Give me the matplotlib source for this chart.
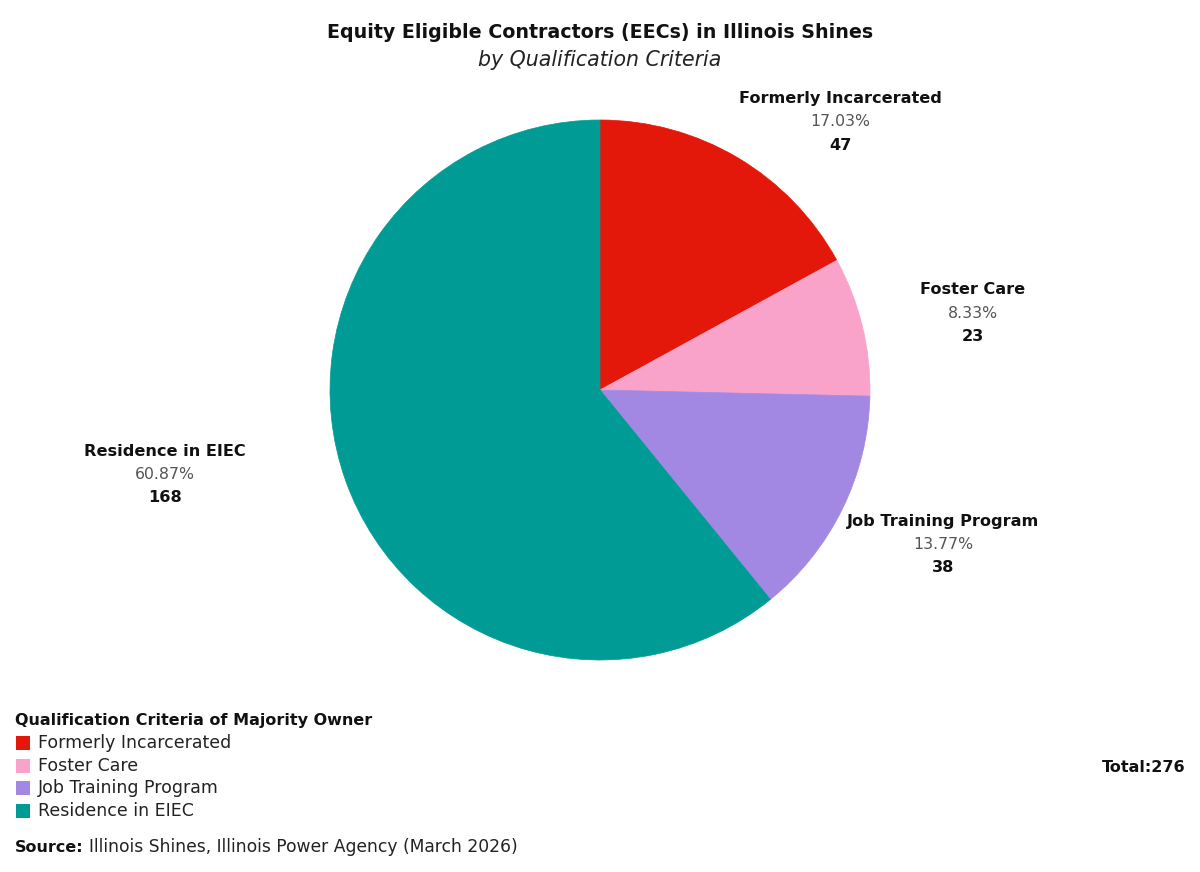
import matplotlib
matplotlib.use("Agg")
import matplotlib.pyplot as plt
from matplotlib.patches import Rectangle

categories = ["Formerly Incarcerated", "Foster Care", "Job Training Program", "Residence in EIEC"]
values = [47, 23, 38, 168]
percent_labels = ["17.03%", "8.33%", "13.77%", "60.87%"]
colors = ["#e3170a", "#f9a3cb", "#a388e3", "#009b95"]
total = sum(values)

# label centres in figure pixels (layout)
label_pos = [(840, 99), (973, 290), (943, 521), (165, 451)]

FONT = ["DejaVu Sans"]
plt.rcParams['font.family'] = FONT

W, H = 1200, 872
fig = plt.figure(figsize=(W / 100, H / 100), dpi=100)
fig.patch.set_facecolor("white")

cx, cy, r = 600, 390, 270
ax = fig.add_axes([(cx - r) / W, 1 - (cy + r) / H, 2 * r / W, 2 * r / H])
wedges, _ = ax.pie(values, colors=colors, startangle=90, counterclock=False,
                   wedgeprops=dict(linewidth=0.5))
for w, c in zip(wedges, colors):
    w.set_edgecolor(c)
ax.set_aspect("equal")
ax.set_xlim(-1, 1)
ax.set_ylim(-1, 1)
ax.axis("off")

def fx(x):
    return x / W

def fy(y):
    return 1 - y / H

fig.text(fx(600), fy(33), "Equity Eligible Contractors (EECs) in Illinois Shines",
         ha="center", va="center", fontsize=13.7, fontweight="bold", color="#111111")
fig.text(fx(600), fy(60), "by Qualification Criteria", ha="center", va="center",
         fontsize=14.8, style="italic", color="#222222")

for cat, pct, val, (lx, ly) in zip(categories, percent_labels, values, label_pos):
    fig.text(fx(lx), fy(ly), cat, ha="center", va="center", fontsize=11.6,
             fontweight="bold", color="#111111")
    fig.text(fx(lx), fy(ly + 23), pct, ha="center", va="center", fontsize=11.3,
             color="#555555")
    fig.text(fx(lx), fy(ly + 46), str(val), ha="center", va="center", fontsize=11.6,
             fontweight="bold", color="#111111")

# legend
fig.text(fx(15), fy(720), "Qualification Criteria of Majority Owner", ha="left",
         va="center", fontsize=11.5, fontweight="bold", color="#111111")
for i, (cat, c) in enumerate(zip(categories, colors)):
    y = 743 + i * 22.7
    fig.patches.append(Rectangle((fx(16), fy(y + 7)), 14 / W, 14 / H,
                                 transform=fig.transFigure, facecolor=c, edgecolor="none"))
    fig.text(fx(38), fy(y), cat, ha="left", va="center", fontsize=12.5, color="#222222")

fig.text(fx(1185), fy(767), f"Total:{total}", ha="right", va="center", fontsize=11.5,
         fontweight="bold", color="#111111")

src_b = fig.text(fx(15), fy(847), "Source:", ha="left", va="center", fontsize=11.5,
                 fontweight="bold", color="#111111")
renderer = fig.canvas.get_renderer()
bb = src_b.get_window_extent(renderer)
fig.text(bb.x1 / W + 5 / W, fy(847), "Illinois Shines, Illinois Power Agency (March 2026)",
         ha="left", va="center", fontsize=12.3, color="#222222")
fig.savefig("out.png", dpi=100, facecolor="white")
